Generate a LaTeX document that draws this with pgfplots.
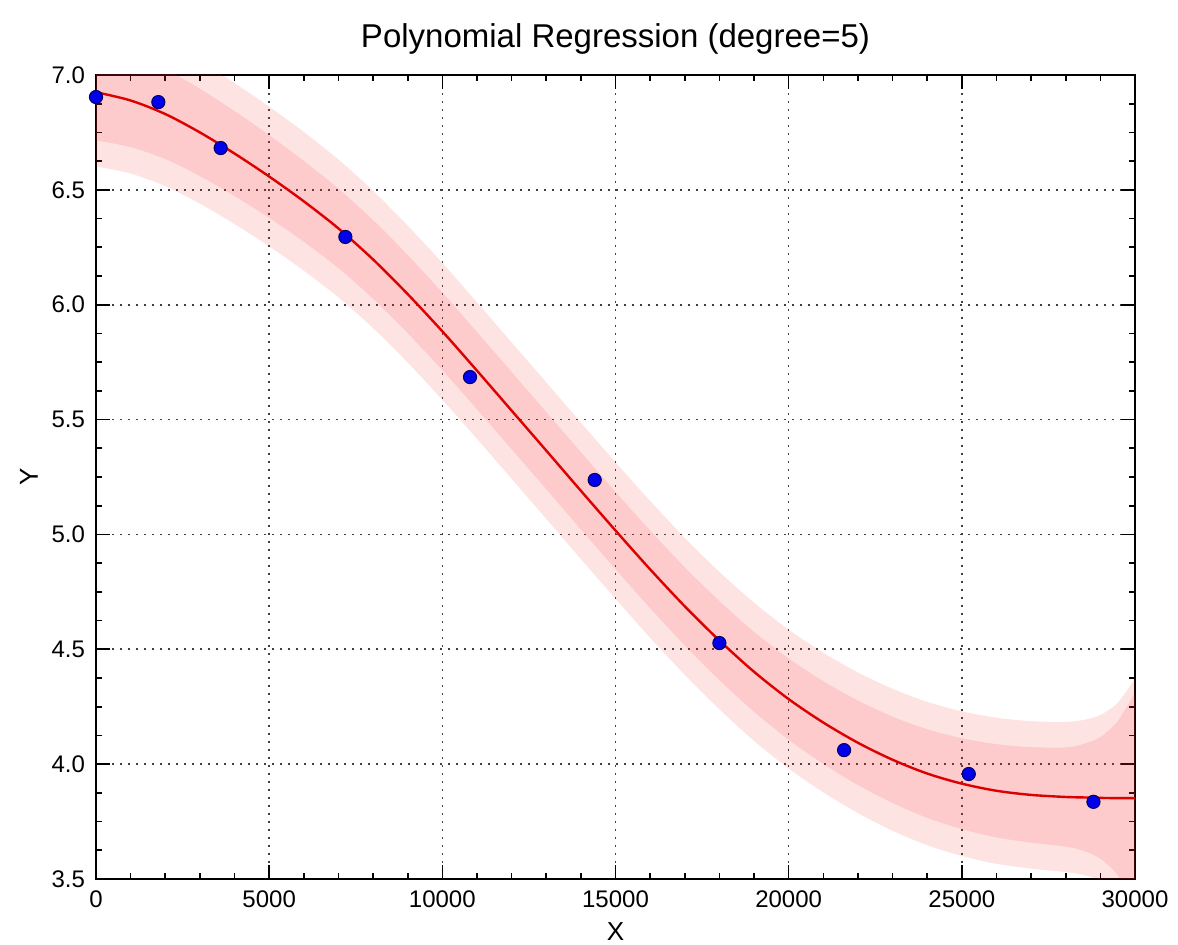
\documentclass[border=0pt]{standalone}
\usepackage{fontspec}
\setmainfont{Liberation Sans}
\usepackage{pgfplots}
\pgfplotsset{compat=1.18}
\usepackage{pgfplotstable}
\usepgfplotslibrary{fillbetween}

\definecolor{fitred}{RGB}{220,0,0}
\definecolor{bandred}{RGB}{245,40,40}
\definecolor{dotblue}{RGB}{0,0,235}
\definecolor{dotedge}{RGB}{0,0,100}

\pgfplotstableread{
x c il iu ol ou
0 6.925 6.715 7.135 6.602 7.248
1000 6.889 6.686 7.092 6.571 7.207
2000 6.830 6.634 7.026 6.516 7.144
3000 6.750 6.560 6.940 6.440 7.060
4000 6.658 6.473 6.843 6.351 6.965
5000 6.558 6.378 6.738 6.254 6.862
6000 6.450 6.274 6.626 6.148 6.752
7000 6.332 6.159 6.505 6.032 6.632
8000 6.197 6.026 6.368 5.898 6.496
9000 6.046 5.876 6.216 5.748 6.344
10000 5.884 5.715 6.053 5.586 6.182
11000 5.713 5.545 5.881 5.416 6.010
12000 5.539 5.371 5.707 5.242 5.836
13000 5.365 5.197 5.533 5.068 5.662
14000 5.190 5.022 5.358 4.893 5.487
15000 5.017 4.849 5.185 4.720 5.314
16000 4.848 4.679 5.017 4.550 5.146
17000 4.687 4.517 4.857 4.389 4.985
18000 4.538 4.366 4.710 4.239 4.837
19000 4.402 4.228 4.576 4.101 4.703
20000 4.283 4.106 4.460 3.981 4.585
21000 4.181 4.001 4.361 3.877 4.485
22000 4.093 3.909 4.277 3.787 4.399
23000 4.019 3.831 4.207 3.710 4.328
24000 3.959 3.766 4.152 3.647 4.271
25000 3.915 3.717 4.113 3.600 4.230
26000 3.884 3.681 4.087 3.566 4.202
27000 3.866 3.658 4.074 3.545 4.187
28000 3.857 3.641 4.073 3.530 4.184
28500 3.855 3.623 4.087 3.518 4.192
29000 3.853 3.588 4.118 3.492 4.214
29500 3.852 3.517 4.187 3.437 4.267
30000 3.852 3.392 4.312 3.331 4.373
}\fit

\pgfplotstableread{
x y
0 6.904
1800 6.882
3600 6.682
7200 6.295
10800 5.685
14400 5.237
18000 4.527
21600 4.061
25200 3.957
28800 3.836
}\obs

\begin{document}
\begin{tikzpicture}
\begin{axis}[
  scale only axis,
  width=519.5pt, height=402pt,
  xmin=0, xmax=30000, ymin=3.5, ymax=7,
  xtick={0,5000,10000,15000,20000,25000,30000},
  ytick={3.5,4.0,4.5,5.0,5.5,6.0,6.5,7.0},
  minor x tick num=4, minor y tick num=3,
  scaled x ticks=false,
  /pgf/number format/assume math mode=true,
  /pgf/number format/set thousands separator={},
  tick label style={font=\fontsize{12}{14}\selectfont},
  xticklabel style={anchor=base, yshift=-14.5pt},
  yticklabel style={anchor=east, xshift=-2pt, /pgf/number format/fixed, /pgf/number format/fixed zerofill, /pgf/number format/precision=1},
  tick align=inside,
  major tick length=7pt, minor tick length=3pt,
  every tick/.style={black, line width=0.8pt},
  axis line style={line width=1pt},
  grid=major,
  major grid style={line width=0.8pt, dash pattern=on 0.9pt off 3.1pt, black!75},
  title={Polynomial Regression (degree=5)},
  title style={font=\fontsize{16.5}{19}\selectfont, at={(axis description cs:0.5,1.0187)}, anchor=base, yshift=0pt},
  xlabel={X}, ylabel={Y},
  label style={font=\fontsize{13}{15}\selectfont},
  xlabel style={at={(axis description cs:0.5,-0.0759)}, anchor=base},
  ylabel style={at={(axis description cs:-0.0645,0.5)}, anchor=center},
]
\addplot[name path=ou, draw=none, smooth] table[x=x, y=ou]{\fit};
\addplot[name path=ol, draw=none, smooth] table[x=x, y=ol]{\fit};
\addplot[name path=iu, draw=none, smooth] table[x=x, y=iu]{\fit};
\addplot[name path=il, draw=none, smooth] table[x=x, y=il]{\fit};
\addplot[fill=bandred, fill opacity=0.13, draw=none] fill between[of=ou and ol];
\addplot[fill=bandred, fill opacity=0.13, draw=none] fill between[of=iu and il];
\addplot[fitred, line width=1.2pt, smooth] table[x=x, y=c]{\fit};
\addplot[only marks, mark=*, mark size=3.3pt, mark options={fill=dotblue, draw=dotedge, line width=0.5pt}] table[x=x, y=y]{\obs};
\end{axis}
\pgfresetboundingbox
\path ([shift={(-48pt,-33pt)}]current axis.south west) rectangle ([shift={(21.5pt,37.5pt)}]current axis.north east);
\end{tikzpicture}
\end{document}
